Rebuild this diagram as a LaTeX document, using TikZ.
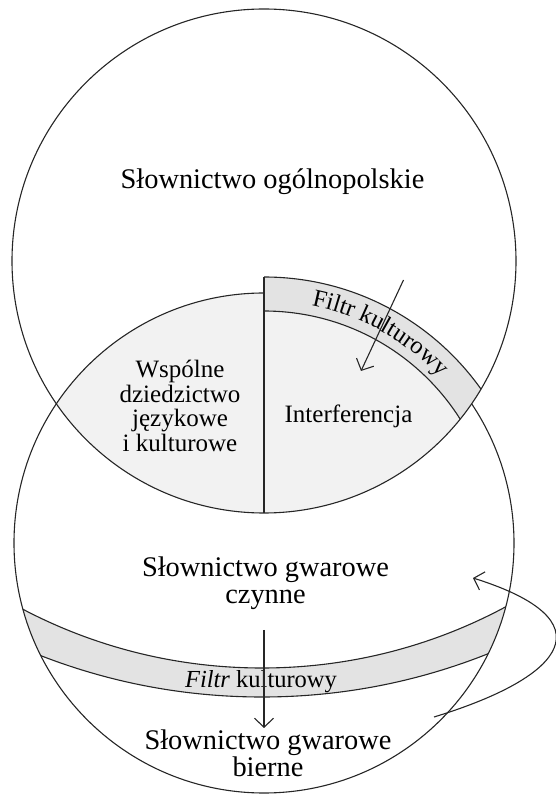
\documentclass[tikz,border=0pt]{standalone}
\usepackage{fontspec}
\setmainfont{Liberation Serif}
\usetikzlibrary{arrows.meta,decorations.text}
\begin{document}
\begin{tikzpicture}[x=1pt,y=1pt,
  ln/.style={draw=black!85, line width=1.1pt},
  lensfill/.style={fill=gray!10},
  bandfill/.style={fill=gray!22},
  arr/.style={ln, -{Straight Barb[length=9pt,width=19pt]}},
  big/.style={font=\fontsize{28.4}{27}\selectfont, align=center, inner sep=0pt},
  mid/.style={font=\fontsize{25}{24.5}\selectfont, align=center, inner sep=0pt}]
\useasboundingbox (0,0) rectangle (555,796);
\coordinate (TC) at (264,535);
\coordinate (BC) at (264,253);
\coordinate (C1) at (262,643);
\coordinate (C2) at (262,709);
% left part of the lens
\begin{scope}
  \clip (TC) circle[radius=252];
  \clip (BC) circle[radius=250];
  \fill[lensfill] (0,0) rectangle (264,796);
\end{scope}
% right part of the lens
\begin{scope}
  \clip (TC) circle[radius=252];
  \clip (BC) circle[radius=266];
  \fill[lensfill] (264,0) rectangle (555,796);
\end{scope}
% upper filter band
\begin{scope}
  \clip (TC) circle[radius=252];
  \clip (264,0) rectangle (555,796);
  \fill[bandfill, even odd rule] (BC) circle[radius=266] (BC) circle[radius=232];
  \draw[ln] (BC) circle[radius=266];
  \draw[ln] (BC) circle[radius=232];
\end{scope}
% lower filter band
\begin{scope}
  \clip (BC) circle[radius=250];
  \fill[bandfill, even odd rule] (C2) circle[radius=610] (C1) circle[radius=515];
  \draw[ln] (C1) circle[radius=515];
  \draw[ln] (C2) circle[radius=610];
\end{scope}
% dividing line
\coordinate (vtop) at (264,519);
\coordinate (vbot) at (264,283);
\draw[ln] (vtop) -- (vbot);
% outlines
\draw[ln] (TC) circle[radius=252];
\draw[ln] (264,503) arc[start angle=90, end angle=393.8, radius=250];
% texts
\node[big, anchor=base] (ogol) at (272.5,607) {Słownictwo ogólnopolskie};
\node[mid] (wsp) at (180,390) {Wspólne\\dziedzictwo\\językowe\\i kulturowe};
\node[mid, anchor=base] (interf) at (348.5,373.4) {Interferencja};
\node[big] (czynne) at (265.5,212.7) {Słownictwo gwarowe\\czynne};
\node[big] (bierne) at (268,42.8) {Słownictwo gwarowe\\bierne};
\node[font=\fontsize{24.5}{24.5}\selectfont, anchor=base, inner sep=0pt] (filtr2) at (261,108.5) {\textit{Filtr} kulturowy};
\path[decorate, decoration={text along path, text align=center,
  text={|\fontsize{24.5}{24.5}\selectfont|Filtr kulturowy}}]
  ([shift={(85:242)}]BC) arc[start angle=85, end angle=37, radius=242];
% arrows
\coordinate (a1s) at (403.5,516);
\coordinate (a1e) at (361,425);
\draw[arr] (a1s) -- (a1e);
\coordinate (a2s) at (264,166);
\coordinate (a2e) at (264,68);
\draw[arr] (a2s) -- (a2e);
\coordinate (cs) at (434,79);
\coordinate (ce) at (473,218);
\draw[arr] (cs) .. controls (568,120) and (607,176) .. (ce);
\end{tikzpicture}
\end{document}
